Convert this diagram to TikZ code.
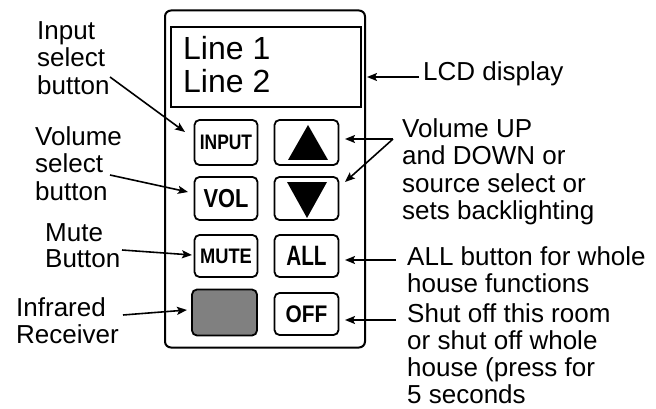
\documentclass[tikz,border=0pt]{standalone}
\usepackage{fontspec}
\setmainfont{Liberation Sans}
\usepackage{graphicx}
\usepackage{tikz}
\usetikzlibrary{arrows.meta,positioning}
\newcommand{\keytxt}[3]{\scalebox{#1}[1]{\fontsize{#2}{#2}\selectfont\bfseries #3}}

\begin{document}
\begin{tikzpicture}[x=1pt,y=-1pt,
  keybtn/.style={draw,line width=1.8pt,rounded corners=5pt,inner sep=0pt},
  note/.style={font=\fontsize{26}{27.5}\selectfont,align=left,inner sep=0pt,anchor=north west},
  arr/.style={-{Stealth[length=10pt,width=8pt,inset=2pt]},line width=1.6pt}]
  \useasboundingbox (0,0) rectangle (656,409);
  % remote body and display
  \node[draw,line width=2pt,rounded corners=6pt,inner sep=0pt,
        minimum width=200pt,minimum height=337pt] (case) at (265,179) {};
  \node[draw,line width=2.4pt,minimum width=190pt,minimum height=80pt,inner sep=0pt] (lcd) at (266,67) {};
  \node[font=\fontsize{32}{33}\selectfont,align=left,anchor=north west,inner sep=0pt] (lines) at (183,36) {Line 1\\Line 2};
  % keys
  \node[keybtn,minimum width=63pt,minimum height=45pt] (input) at (226,142.5) {\keytxt{0.83}{21}{INPUT}};
  \node[keybtn,minimum width=64pt,minimum height=45pt] (up) at (306.5,142.5) {};
  \node[keybtn,minimum width=63pt,minimum height=43pt] (vol) at (226,198.5) {\keytxt{0.84}{26}{VOL}};
  \node[keybtn,minimum width=64pt,minimum height=43pt] (down) at (306.5,198.5) {};
  \node[keybtn,minimum width=63pt,minimum height=42pt] (mute) at (226,256) {\keytxt{0.87}{21}{MUTE}};
  \node[keybtn,minimum width=64pt,minimum height=42pt] (all) at (306.5,256) {\keytxt{0.74}{28}{ALL}};
  \node[keybtn,fill=gray,minimum width=65pt,minimum height=46pt] (ir) at (224.5,312.5) {};
  \node[keybtn,minimum width=64pt,minimum height=42pt] (off) at (306.5,314) {\keytxt{0.87}{24}{OFF}};
  \fill (308,125) -- (328,160) -- (288,160) -- cycle;
  \fill (287,182) -- (327,182) -- (307,218) -- cycle;
  % labels
  \node[note] (inlbl) at (37,21.3) {Input\\select\\button};
  \node[note] (vollbl) at (35,126.3) {Volume\\select\\button};
  \node[note,font=\fontsize{26}{26}\selectfont] (mutelbl) at (45,223.3) {Mute\\Button};
  \node[note] (irlbl) at (16,297.3) {Infrared\\Receiver};
  \node[note] (lcdlbl) at (423,61.3) {LCD display};
  \node[note] (updnlbl) at (402,118.3) {Volume UP\\and DOWN or\\source select or\\sets backlighting};
  \node[note] (alllbl) at (407,246.3) {ALL button for whole\\house functions};
  \node[note,font=\fontsize{26}{27}\selectfont] (offlbl) at (407,303.5) {Shut off this room\\or shut off whole\\house (press for\\5 seconds};
  % arrow ends
  \coordinate (in-s) at (110,77);   \coordinate (in-t) at (185,132);
  \coordinate (vol-s) at (110,175); \coordinate (vol-t) at (188,192);
  \coordinate (mute-s) at (122,250);\coordinate (mute-t) at (192,255);
  \coordinate (ir-s) at (123,315);  \coordinate (ir-t) at (187,310);
  \coordinate (lcd-s) at (419,77);  \coordinate (lcd-t) at (367,77);
  \coordinate (updn-s) at (393,139);\coordinate (up-t) at (345,139);
  \coordinate (down-t) at (345,182);
  \coordinate (all-s) at (396,260); \coordinate (all-t) at (345,260);
  \coordinate (off-s) at (396,320); \coordinate (off-t) at (345,320);
  % arrows
  \draw[arr] (in-s) -- (in-t);
  \draw[arr] (vol-s) -- (vol-t);
  \draw[arr] (mute-s) -- (mute-t);
  \draw[arr] (ir-s) -- (ir-t);
  \draw[arr] (lcd-s) -- (lcd-t);
  \draw[arr] (updn-s) -- (up-t);
  \draw[arr] (updn-s) -- (down-t);
  \draw[arr] (all-s) -- (all-t);
  \draw[arr] (off-s) -- (off-t);
\end{tikzpicture}
\end{document}
